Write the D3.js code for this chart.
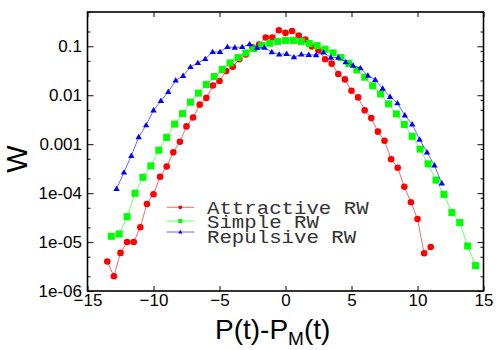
<!DOCTYPE html>
<html>
<head>
<meta charset="utf-8">
<script src="https://cdn.jsdelivr.net/npm/d3@7"></script>
<style>
  body { margin: 0; background: #fff; }
  svg { display: block; font-family: "Liberation Sans", Arial, sans-serif; }
</style>
</head>
<body>
<script>
// data
const attrX = [-13.5,-13,-12.5,-12,-11.5,-11,-10.5,-10,-9.5,-9,-8.5,-8,-7.5,-7,-6.5,-6,-5.5,-5,-4.5,-4,-3.5,-3,-2.5,-2,-1.5,-1,-0.5,0,0.5,1,1.5,2,2.5,3,3.5,4,4.5,5,5.5,6,6.5,7,7.5,8,8.5,9,9.5,10,10.5,11];
const attrW = [4e-6,2e-6,6e-6,1e-5,1e-5,2e-5,6e-5,9.5e-5,2.15e-4,3.5e-4,6.8e-4,1.12e-3,2.3e-3,3.5e-3,6.4e-3,8.8e-3,0.0158,0.0195,0.031,0.038,0.054,0.068,0.095,0.108,0.151,0.151,0.212,0.187,0.205,0.165,0.137,0.099,0.083,0.054,0.044,0.027,0.021,0.0123,0.009,0.0049,0.0034,0.0018,0.00117,4.9e-4,3.3e-4,1.35e-4,6.5e-5,2.95e-5,5.9e-6,7.9e-6];

const simpleX = [-13.2,-12.6,-12,-11.4,-10.8,-10.2,-9.6,-9,-8.4,-7.8,-7.2,-6.6,-6,-5.4,-4.8,-4.2,-3.6,-3,-2.4,-1.8,-1.2,-0.6,0,0.6,1.2,1.8,2.4,3,3.6,4.2,4.8,5.4,6,6.6,7.2,7.8,8.4,9,9.6,10.2,10.8,11.4,12,12.6,13.2,13.8,14.4];
const simpleW = [1.31e-5,1.46e-5,3.3e-5,9.9e-5,2.1e-4,3.6e-4,7.5e-4,1.37e-3,2.56e-3,4.2e-3,7.2e-3,0.011,0.0165,0.024,0.0334,0.0456,0.0587,0.073,0.0898,0.103,0.115,0.125,0.131,0.131,0.125,0.1135,0.103,0.087,0.073,0.0587,0.0444,0.0328,0.0233,0.0155,0.0106,0.00664,0.00415,0.00252,0.00144,7.9e-4,3.96e-4,1.84e-4,9.4e-5,4.0e-5,2.5e-5,8.3e-6,3.3e-6];

const repX = [-12.8,-12.24,-11.68,-11.12,-10.56,-10,-9.44,-8.88,-8.32,-7.76,-7.2,-6.64,-6.08,-5.52,-4.96,-4.4,-3.84,-3.28,-2.72,-2.16,-1.6,-1.04,-0.48,0.08,0.64,1.2,1.76,2.32,2.88,3.44,4,4.56,5.12,5.68,6.24,6.8,7.36,7.92,8.48,9.04,9.6,10.16,10.72,11.28,11.84];
const repW = [1.22e-4,2.64e-4,5.8e-4,1.39e-3,2.44e-3,4.9e-3,7.65e-3,0.0117,0.020,0.0248,0.0378,0.0456,0.055,0.0765,0.0765,0.0968,0.094,0.0968,0.11,0.093,0.094,0.076,0.068,0.070,0.0597,0.068,0.0667,0.066,0.0747,0.0587,0.0587,0.0476,0.0404,0.0356,0.0252,0.0207,0.0136,0.0093,0.00687,0.00387,0.00254,0.00124,6.8e-4,3.7e-4,1.58e-4];

const seriesNames = ["Attractive RW", "Simple RW", "Repulsive RW"];
const xTicks = [-15, -10, -5, 0, 5, 10, 15];
const yTicks = [1e-6, 1e-5, 1e-4, 1e-3, 0.01, 0.1];
const yTickLabels = ["1e-06", "1e-05", "1e-04", "0.001", "0.01", "0.1"];

// layout
const W = 500, H = 350;
const margin = {top: 12, right: 16.5, bottom: 59, left: 87.5};
const width = W - margin.left - margin.right;
const height = H - margin.top - margin.bottom;

const svg = d3.select("body").append("svg")
    .attr("width", W)
    .attr("height", H);
const g = svg.append("g")
    .attr("transform", "translate(" + margin.left + "," + margin.top + ")");

const x = d3.scaleLinear().domain([-15, 15]).range([0, width]);
const y = d3.scaleLog().domain([1e-6, 0.5]).range([height, 0]);

// minor ticks on the log axis (2 and 5 per decade; right side also has 8)
const minorLeft = [], minorRight = [];
for (let e = -6; e <= -1; e++) {
    [2, 5, 8].forEach(m => {
        const v = m * Math.pow(10, e);
        if (v <= 0.5) {
            if (m !== 8) minorLeft.push(v);
            minorRight.push(v);
        }
    });
}

function styleAxis(sel) {
    sel.select(".domain").remove();
    sel.selectAll(".tick line").attr("stroke", "#333").attr("stroke-width", 1.2);
    sel.selectAll(".tick text")
        .attr("fill", "#000")
        .style("font-family", "'Liberation Sans', Arial, sans-serif")
        .style("font-size", "17px");
}

// bottom axis with labels
g.append("g")
    .attr("transform", "translate(0," + height + ")")
    .call(d3.axisBottom(x).tickValues(xTicks).tickFormat(d3.format("d"))
        .tickSizeInner(-5).tickSizeOuter(0).tickPadding(2.5))
    .call(styleAxis);
// top axis, ticks only
g.append("g")
    .call(d3.axisTop(x).tickValues(xTicks).tickFormat("")
        .tickSizeInner(-5).tickSizeOuter(0))
    .call(styleAxis);
// left axis with labels
g.append("g")
    .call(d3.axisLeft(y).tickValues(yTicks).tickFormat((d, i) => yTickLabels[i])
        .tickSizeInner(-6).tickSizeOuter(0).tickPadding(5.5))
    .call(styleAxis);
g.append("g")
    .call(d3.axisLeft(y).tickValues(minorLeft).tickFormat("")
        .tickSizeInner(-3).tickSizeOuter(0))
    .call(styleAxis);
// right axis, ticks only
g.append("g")
    .attr("transform", "translate(" + width + ",0)")
    .call(d3.axisRight(y).tickValues(yTicks).tickFormat("")
        .tickSizeInner(-6).tickSizeOuter(0))
    .call(styleAxis);
g.append("g")
    .attr("transform", "translate(" + width + ",0)")
    .call(d3.axisRight(y).tickValues(minorRight).tickFormat("")
        .tickSizeInner(-3).tickSizeOuter(0))
    .call(styleAxis);

// frame
g.append("rect")
    .attr("width", width)
    .attr("height", height)
    .attr("fill", "none")
    .attr("stroke", "#000")
    .attr("stroke-width", 1.6);

const series = [
    {name: seriesNames[0], xs: attrX, ws: attrW, color: "#ff0000", shape: "circle"},
    {name: seriesNames[1], xs: simpleX, ws: simpleW, color: "#00ff00", shape: "square"},
    {name: seriesNames[2], xs: repX, ws: repW, color: "#0000ff", shape: "triangle"}
];

function marker(sel, shape, color, s) {
    if (shape === "circle") {
        sel.append("circle").attr("r", s * 0.5).attr("fill", color);
    } else if (shape === "square") {
        sel.append("rect").attr("x", -s / 2).attr("y", -s / 2)
            .attr("width", s).attr("height", s).attr("fill", color);
    } else {
        const h = s * 0.85;
        sel.append("path")
            .attr("d", "M0," + (-h * 0.6) + "L" + (s / 2) + "," + (h * 0.4) + "L" + (-s / 2) + "," + (h * 0.4) + "Z")
            .attr("fill", color);
    }
}

const line = d3.line().x(d => x(d[0])).y(d => y(d[1]));

series.forEach(s => {
    const pts = d3.zip(s.xs, s.ws);
    g.append("path")
        .datum(pts)
        .attr("fill", "none")
        .attr("stroke", s.color)
        .attr("stroke-opacity", 0.6)
        .attr("stroke-width", 1)
        .attr("d", line);
    const size = s.shape === "circle" ? 6.6 : (s.shape === "square" ? 7 : 6.4);
    g.selectAll(null)
        .data(pts)
        .enter().append("g")
        .attr("transform", d => "translate(" + x(d[0]) + "," + y(d[1]) + ")")
        .each(function () { marker(d3.select(this), s.shape, s.color, size); });
});

// legend
const legendY = [207.3, 221, 232];
const legendTextY = [214, 228, 242.5];
const legendLen = [161.6, 111.9, 149.2];
series.forEach((s, i) => {
    const lg = svg.append("g");
    lg.append("line")
        .attr("x1", 166.7).attr("x2", 194.3)
        .attr("y1", legendY[i]).attr("y2", legendY[i])
        .attr("stroke", s.color).attr("stroke-opacity", 0.6).attr("stroke-width", 1);
    const mg = lg.append("g").attr("transform", "translate(180.3," + legendY[i] + ")");
    marker(mg, s.shape, s.color, s.shape === "circle" ? 3.8 : 4.2);
    lg.append("text")
        .attr("x", 207)
        .attr("y", legendTextY[i])
        .attr("textLength", legendLen[i])
        .attr("lengthAdjust", "spacingAndGlyphs")
        .style("font-family", "'Liberation Mono', 'Courier New', monospace")
        .style("font-size", "19px")
        .attr("fill", "#333")
        .text(s.name);
});

// axis titles
svg.append("text")
    .attr("transform", "translate(27,159) rotate(-90)")
    .attr("text-anchor", "middle")
    .style("font-size", "29px")
    .text("W");

const xt = svg.append("text")
    .attr("x", 215)
    .attr("y", 339.3)
    .style("font-size", "28px");
xt.append("tspan").text("P(t)-P");
xt.append("tspan").attr("dy", 6).style("font-size", "19px").text("M");
xt.append("tspan").attr("dy", -6).text("(t)");
</script>
</body>
</html>
